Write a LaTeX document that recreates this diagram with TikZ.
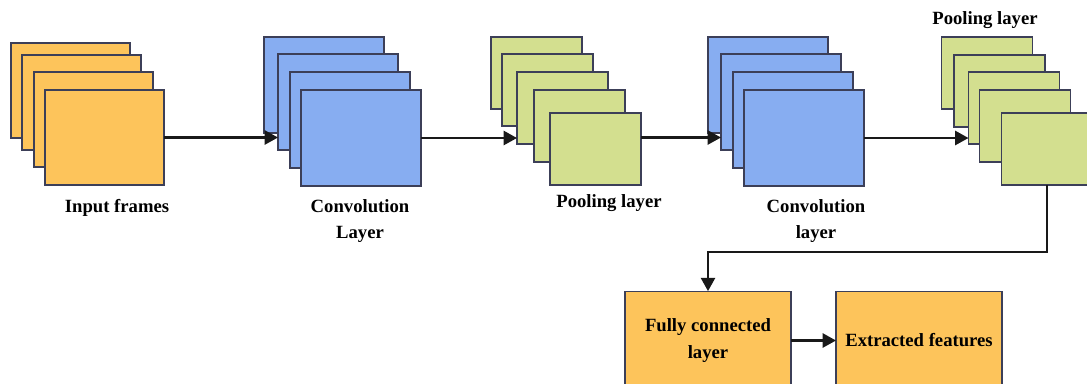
\documentclass[tikz,border=0pt]{standalone}
\usepackage{fontspec}
\setmainfont{Liberation Serif}
\usetikzlibrary{arrows.meta}
\definecolor{forange}{HTML}{FDC45B}
\definecolor{fblue}{HTML}{87ADF1}
\definecolor{fgreen}{HTML}{D3DF8F}
\definecolor{fborder}{HTML}{3C3F58}
\tikzset{
  frm/.style={draw=fborder, line width=0.9pt, inner sep=0pt, outer sep=0pt},
  infr/.style={frm, fill=forange, minimum width=89.25pt, minimum height=71.25pt},
  cvfr/.style={frm, fill=fblue, minimum width=90pt, minimum height=72pt},
  plfr/.style={frm, fill=fgreen, minimum width=68.25pt, minimum height=54pt},
  lbl/.style={font=\fontsize{14}{20}\selectfont\bfseries, align=center, inner sep=0pt},
  arr/.style={line width=1.9pt, draw=black!90, -{Triangle[length=10pt,width=10.5pt]}}
}
\begin{document}
\begin{tikzpicture}[x=0.75pt,y=-0.75pt]
\useasboundingbox (0,0) rectangle (1087,383);
% input frames
\node[infr] (in1) at (70.5,90.5) {};
\node[infr] (in2) at (81.5,102.5) {};
\node[infr] (in3) at (93.5,119.5) {};
\node[infr] (in4) at (104.5,137.5) {};
\node[lbl] (inl) at (117,208) {Input frames};
% convolution 1
\node[cvfr] (c11) at (324,85) {};
\node[cvfr] (c12) at (338,102) {};
\node[cvfr] (c13) at (350,120) {};
\node[cvfr] (c14) at (361,138) {};
\node[lbl] (c1l) at (360,221) {Convolution\\Layer};
% pooling 1
\node[plfr] (p11) at (536.5,73) {};
\node[plfr] (p12) at (547.5,90) {};
\node[plfr] (p13) at (562.5,108) {};
\node[plfr] (p14) at (579.5,126) {};
\node[plfr] (p15) at (595.5,149) {};
\node[lbl] (p1l) at (609,203) {Pooling layer};
% convolution 2
\node[cvfr] (c21) at (768,85) {};
\node[cvfr] (c22) at (781,102) {};
\node[cvfr] (c23) at (793,120) {};
\node[cvfr] (c24) at (804,138) {};
\node[lbl] (c2l) at (816,221) {Convolution\\layer};
% pooling 2
\node[plfr] (p21) at (987,73) {};
\node[plfr] (p22) at (999.5,91) {};
\node[plfr] (p23) at (1014,108) {};
\node[plfr] (p24) at (1025,126) {};
\node[plfr] (p25) at (1047,149) {};
\node[lbl] (p2l) at (985,20) {Pooling layer};
% bottom boxes
\node[frm, fill=forange, minimum width=124.5pt, minimum height=74pt, lbl, draw=fborder, line width=0.9pt] (fc) at (708,340.5) {Fully connected\\layer};
\node[frm, fill=forange, minimum width=124.5pt, minimum height=74pt, lbl, draw=fborder, line width=0.9pt] (ef) at (919,340.5) {Extracted features};
\coordinate (bend) at (0,252);
% connectors
\draw[arr] (in4.east) -- (in4.east -| c12.west);
\draw[arr] (c14.east) -- (c14.east -| p13.west);
\draw[arr] (p15.east |- in4.east) -- (c22.west |- in4.east);
\draw[arr] (c24.east) -- (c24.east -| p23.west);
\draw[arr] (p25.south) |- (bend -| fc.north) -- (fc.north);
\draw[arr] (fc.east) -- (ef.west);
\end{tikzpicture}
\end{document}
